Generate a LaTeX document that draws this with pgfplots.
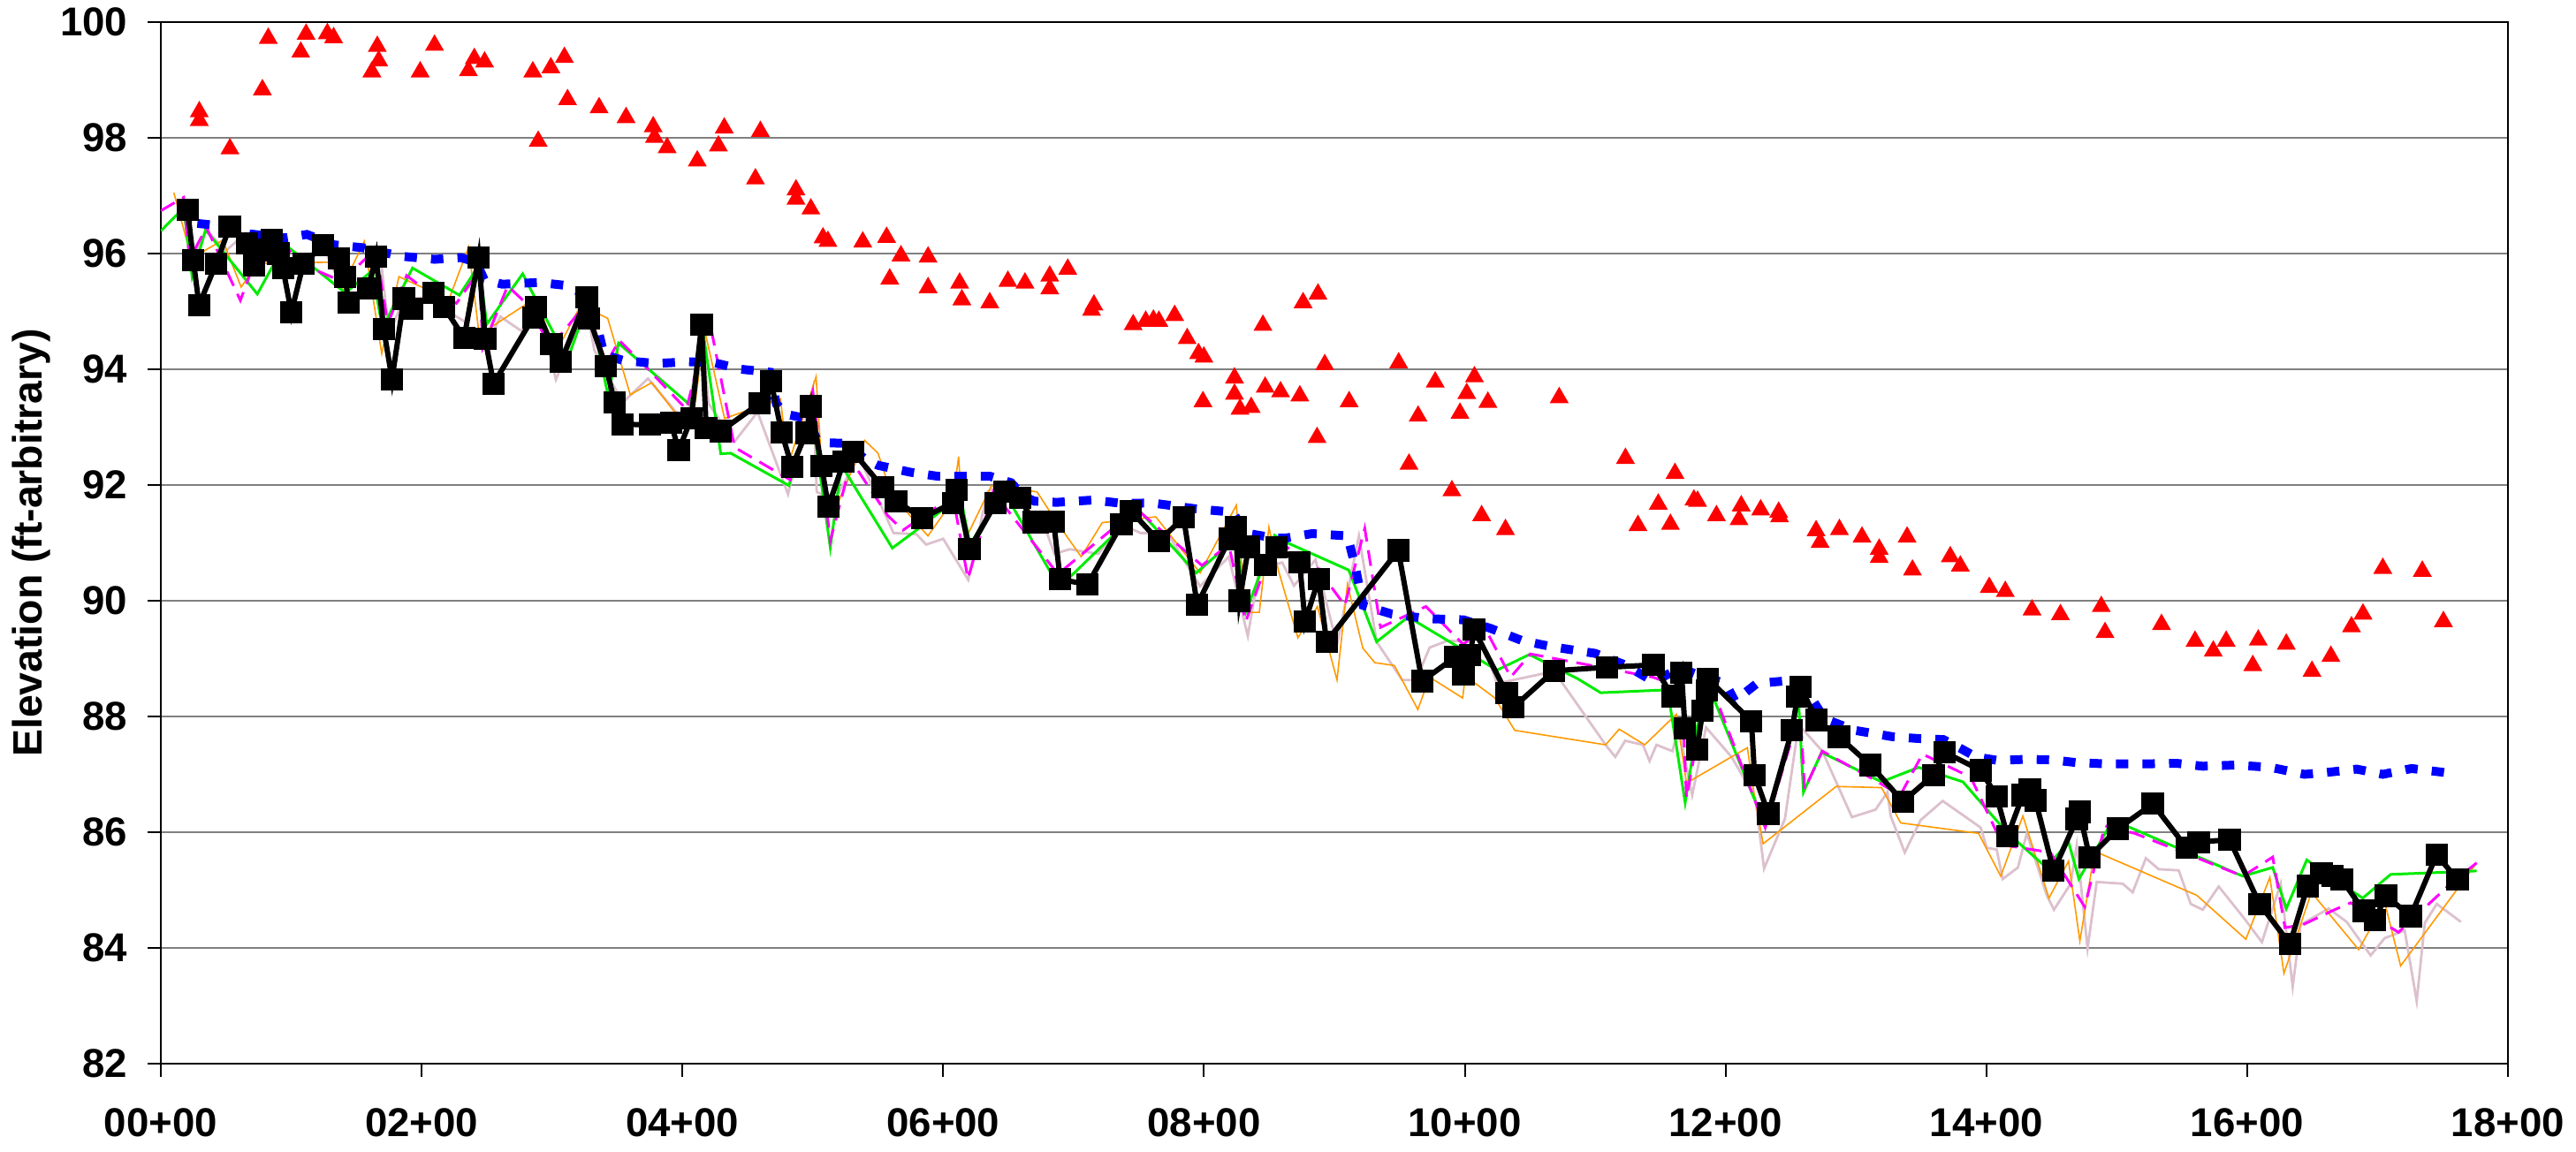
\documentclass[border=0pt]{standalone}
\usepackage{pgfplots}
\pgfplotsset{compat=1.18}
\usepackage{fontspec}
\setmainfont{Liberation Sans}

\definecolor{exgreen}{RGB}{0,235,0}
\definecolor{exorange}{RGB}{255,153,0}
\definecolor{exthistle}{RGB}{220,192,205}
\definecolor{exmagenta}{RGB}{255,0,255}
\definecolor{exblue}{RGB}{0,0,255}
\definecolor{exred}{RGB}{255,0,0}

\begin{document}
\begin{tikzpicture}
\begin{axis}[
    width=664pt, height=294.75pt, scale only axis,
    xmin=0, xmax=1800, ymin=82, ymax=100,
    xtick={0,200,...,1800},
    xticklabels={00+00,02+00,04+00,06+00,08+00,10+00,12+00,14+00,16+00,18+00},
    ytick={82,84,...,100},
    yticklabels={82,84,86,88,90,92,94,96,98,100},
    xtick pos=left, ytick pos=left,
    tick align=outside, major tick length=3.7pt,
    tick style={black, line width=0.5pt},
    ymajorgrids, grid style={gray, line width=0.45pt},
    axis line style={black, line width=0.5pt},
    tick label style={font=\bfseries\fontsize{11.4}{13}\selectfont},
    xticklabel style={yshift=-5.5pt},
    yticklabel style={xshift=-2.2pt},
    ylabel={Elevation (ft-arbitrary)},
    ylabel style={font=\bfseries\fontsize{11.6}{13}\selectfont, at={(axis description cs:-0.0553,0.5)}, anchor=center},
    clip=true,
]
% thistle
\addplot[exthistle, line width=0.7pt] coordinates {
(20,96.75)(25,95.95)(35,96.40)(50,96.05)(65,96.35)(75,95.75)(90,96.10)(100,95.10)(112,95.85)(125,96.10)
(140,95.35)(160,95.60)(168,96.05)(175,94.60)(186,95.20)(205,95.25)(220,95.00)(235,94.80)(244,95.85)(250,94.40)
(260.4,94.91)(276.6,94.66)(288,95.20)(303,93.82)(326,95.10)(332.5,94.33)(345,93.80)(354.5,93.43)(373.6,93.84)(403,93.05)
(415,94.70)(420,93.41)(440,92.75)(457.6,93.26)(481,91.84)(500,93.66)(503,91.88)(516.3,91.73)(535.4,92.49)(561.9,91.17)
(579.5,91.15)(586.9,90.97)(600,91.07)(619.2,90.36)(633.9,91.88)(645.6,92.04)(657.4,91.78)(678,91.27)(685.3,90.81)(697,90.89)
(719,90.81)(736.7,91.32)(751.4,91.17)(772,91.17)(797,90.25)(819,90.76)(833.6,89.39)(842.4,90.56)(860,90.66)(869,90.26)
(885.5,90.71)(902,89.24)(918.8,91.12)(932.4,89.29)(952,88.63)(962.6,88.63)(973,89.19)(986.9,89.31)(1002,89.29)(1012.6,89.34)
(1024.7,88.57)(1068.5,88.78)(1108,87.51)(1115.4,87.30)(1123,87.58)(1136.6,87.51)(1141.7,87.23)(1147,87.51)(1159.3,87.40)(1163.8,87.81)
(1174.4,86.64)(1185,87.81)(1204.6,87.30)(1222.8,86.59)(1229.5,85.37)(1245.5,86.23)(1256,87.86)(1274.2,87.40)(1296.9,86.26)(1315,86.39)
(1324.1,86.69)(1326.6,86.28)(1337.4,85.65)(1349.6,86.21)(1366.5,86.54)(1395.6,86.08)(1400.3,85.73)(1407.9,85.70)(1412.5,85.19)(1424.2,85.39)
(1431,85.98)(1446.3,84.91)(1451.8,84.66)(1464.7,85.11)(1469.3,85.78)(1477.6,83.99)(1484.6,85.14)(1504.5,85.11)(1512.2,84.96)(1522.3,85.55)
(1532.2,85.36)(1547.5,85.34)(1556.7,84.76)(1565.9,84.66)(1578.2,85.06)(1598.1,84.50)(1611.3,84.10)(1625.7,85.11)(1634.9,83.33)(1641,84.40)
(1662.5,84.68)(1676.3,84.45)(1694.7,83.87)(1705.5,84.17)(1720.8,84.30)(1730,83.08)(1736.2,84.43)(1745.4,84.76)(1763.9,84.45)
};
% orange
\addplot[exorange, line width=0.4pt] coordinates {
(10,97.05)(24,95.88)(34.3,96.06)(47.5,96.23)(61.6,95.42)(74,95.83)(130,95.85)(138.6,95.39)(156,96.21)(169.4,94.27)
(182.6,95.60)(203,95.39)(221,95.21)(236,96.11)(243.7,94.68)(250,94.68)(288,95.24)(302.5,94.27)(322,95.11)(342.7,94.88)
(360,93.56)(376.5,93.77)(403,93.00)(410,93.46)(417,94.68)(432.3,93.15)(475.2,93.49)(481,92.34)(502.5,93.87)(507.5,92.09)
(516.3,91.53)(539.8,92.77)(550,92.55)(560.4,91.83)(588.3,91.12)(607.4,91.73)(611.8,92.49)(616.2,91.02)(636.8,91.98)(642.7,91.98)
(672,91.88)(686.7,91.37)(705.8,90.76)(722,91.35)(763,91.45)(797,90.48)(824.8,91.65)(832.2,89.80)(842.4,89.80)(849.8,91.27)
(857,90.53)(872,89.36)(887,89.90)(902,88.63)(910,90.28)(921.8,89.18)(931,88.93)(946,88.88)(964,88.12)(973,88.68)
(998.3,88.32)(1000.5,88.70)(1023,88.32)(1038.3,87.76)(1108,87.51)(1118.4,87.78)(1138,87.51)(1162.3,88.04)(1170,86.85)(1216.7,87.46)
(1221.3,86.74)(1228.8,85.80)(1284.8,86.79)(1319.6,86.77)(1334.3,86.16)(1394,85.98)(1411,85.24)(1428,86.28)(1448,84.86)(1463,85.50)
(1471.7,84.12)(1483,85.67)(1561.3,84.91)(1599,84.15)(1617.4,85.22)(1628.2,83.56)(1649.3,84.96)(1685.5,83.97)(1705.5,84.78)(1717.7,83.69)
(1776,85.47)
};
% green
\addplot[exgreen, line width=0.75pt] coordinates {
(0,96.39)(17.5,96.79)(24,95.60)(34.3,96.41)(74,95.30)(95,96.16)(141.5,95.32)(162,95.70)(170,94.71)(193,95.75)
(229,95.28)(244,95.80)(250,94.78)(277.5,95.65)(288,95.19)(312,94.17)(328,95.19)(343,93.54)(351,94.45)(406,93.38)
(416,94.63)(429.4,92.54)(437,92.55)(481.7,91.99)(498.7,93.31)(513.4,90.92)(522,92.34)(561,90.91)(582.5,91.27)(607.4,91.71)
(613,91.83)(620.6,90.97)(639.7,91.68)(648,91.83)(689,90.23)(736.7,91.27)(745.5,91.68)(794,90.48)(819,90.97)(823.4,91.32)
(832,89.80)(854.2,91.13)(860,91.04)(911,90.53)(932.4,89.29)(956.6,89.72)(1024.7,88.80)(1049.5,89.07)(1086.7,88.65)(1104.2,88.41)
(1155.6,88.46)(1169,86.51)(1180.4,88.12)(1186,88.58)(1230.4,86.11)(1251.5,87.79)(1256,88.27)(1259.7,86.69)(1273.6,87.38)(1319.6,86.87)
(1348,87.12)(1382,86.87)(1415.6,86.00)(1446,85.39)(1463,85.83)(1471,85.19)(1497,86.21)(1596.6,85.24)(1619.6,85.39)(1630,84.68)
(1645.7,85.52)(1658,85.32)(1688.6,84.86)(1710,85.27)(1776,85.33)
};
% magenta
\addplot[exmagenta, line width=0.75pt, dash pattern=on 4.5pt off 2.5pt] coordinates {
(0,96.74)(17.5,96.97)(22,95.90)(35,96.45)(61,95.19)(71,95.80)(94.5,96.13)(115,95.75)(138.6,95.52)(165,96.08)
(174,94.78)(188.5,95.62)(203,95.37)(226.7,95.14)(244,95.70)(247,94.38)(266,95.44)(282.5,95.09)(298.6,94.38)(326.6,95.14)
(341,94.07)(351.5,94.50)(375,93.97)(403,93.31)(420.6,94.86)(440,92.65)(482.6,92.09)(500,93.61)(513.4,91.04)(529.6,92.42)
(557.5,91.47)(569.2,91.22)(607.4,91.81)(619,90.38)(638.3,91.88)(688,90.46)(736.7,91.37)(748.4,91.58)(798.4,90.61)(819,90.97)
(832,89.64)(848.3,90.66)(862,90.95)(887,90.56)(908,89.92)(923.3,91.25)(935.4,89.54)(970.2,89.90)(999,89.24)(1014,89.59)
(1035.2,88.68)(1050.4,89.08)(1144,88.68)(1158,88.57)(1166,88.78)(1170,86.59)(1182,88.07)(1186.5,88.68)(1230.4,86.08)(1251.5,87.66)
(1257.6,87.96)(1260.6,86.74)(1274.2,87.40)(1310.5,86.95)(1334,86.64)(1351,87.35)(1388,86.95)(1412.5,85.78)(1449,85.65)(1475.4,84.71)
(1490.8,86.11)(1513.7,85.98)(1556.7,85.60)(1596.6,85.24)(1619.6,85.57)(1629,84.35)(1642.6,84.40)(1667,84.66)(1679.4,84.78)(1716,84.27)
(1756,85.11)(1776,85.47)
};
% blue dashed
\addplot[exblue, line width=2.5pt, dash pattern=on 3.5pt off 4pt] coordinates {
(28,96.52)(50,96.47)(68,96.34)(95,96.27)(112,96.33)(133,96.15)(155,96.10)(168,96.03)(186,95.95)(210,95.90)
(230,95.93)(242,95.85)(248,95.55)(262,95.47)(290,95.50)(310,95.45)(325,95.30)(334,94.80)(340,94.25)(355,94.15)
(380,94.10)(405,94.13)(425,94.11)(445,94.00)(467,93.95)(472,93.40)(480,93.22)(495,93.15)(503,92.80)(510,92.73)
(525,92.72)(540,92.45)(550,92.34)(575,92.22)(596,92.15)(615,92.15)(636,92.15)(652,92.04)(662,91.80)(670,91.72)
(687,91.70)(715,91.74)(738,91.68)(760,91.69)(793,91.59)(822,91.53)(832,91.17)(855,91.08)(862,91.08)(883,91.16)
(910,91.12)(916,90.59)(922,89.92)(944,89.77)(971,89.69)(999,89.67)(1020,89.52)(1044,89.31)(1068,89.20)(1100,89.09)
(1123,88.89)(1145,88.60)(1165,88.84)(1181,88.70)(1200,88.57)(1207,88.27)(1224,88.57)(1244,88.61)(1262,88.45)(1276,87.96)
(1299,87.76)(1328,87.65)(1347,87.62)(1367,87.60)(1380,87.45)(1392,87.30)(1409,87.24)(1431,87.26)(1450,87.25)(1470,87.20)
(1493,87.18)(1520,87.18)(1546,87.19)(1566,87.14)(1591,87.16)(1618,87.12)(1644,87.00)(1664,87.04)(1684,87.09)(1704,87.00)
(1726,87.10)(1741,87.06)(1756,87.02)
};
% black with squares
\addplot[black, line width=1.5pt, mark=square*, mark size=2.4pt, mark options={solid}] coordinates {
(20.5,96.76)(24.9,95.89)(29.3,95.11)(42.5,95.83)(52.8,96.46)(66.0,96.17)(71.6,95.80)(79.2,96.06)(85.1,96.23)(90.1,96.00)
(93.6,95.75)(100.1,94.98)(109.2,95.82)(124.2,96.14)(136.8,95.91)(141.5,95.60)(143.8,95.15)(159.1,95.40)(165.0,95.95)(170.9,94.70)
(177.3,93.83)(186.4,95.22)(192.9,95.04)(209.1,95.32)(217.0,95.08)(232.6,94.54)(243.7,95.93)(248.7,94.53)(255.2,93.75)(285.4,94.89)
(287.5,95.08)(299.5,94.44)(306.9,94.13)(326.6,95.25)(328.6,94.88)(341.3,94.05)(348.0,93.43)(353.9,93.05)(375.0,93.04)(391.2,93.08)
(397.1,92.60)(406.8,93.15)(414.7,94.77)(418.2,92.99)(429.4,92.93)(459.1,93.41)(467.9,93.79)(476.1,92.91)(484.0,92.31)(494.9,92.90)
(498.7,93.36)(506.7,92.33)(511.9,91.63)(523.7,92.40)(531.0,92.57)(553.7,91.96)(563.9,91.72)(583.9,91.43)(607.4,91.69)(610.3,91.91)
(620.1,90.89)(640.3,91.69)(647.1,91.88)(658.8,91.78)(669.1,91.36)(672.6,91.35)(684.7,91.37)(689.7,90.37)(710.8,90.28)(736.7,91.32)
(744.0,91.55)(765.5,91.03)(784.3,91.44)(794.8,89.93)(819.5,91.07)(824.2,91.28)(827.2,90.00)(834.2,90.93)(847.1,90.62)(855.7,90.92)
(873.3,90.67)(877.5,89.64)(887.9,90.37)(894.0,89.29)(949.0,90.87)(967.2,88.61)(992.9,89.03)(999.0,88.72)(1004.1,89.06)(1007.1,89.50)
(1032.2,88.40)(1037.4,88.16)(1068.5,88.79)(1109.3,88.85)(1144.7,88.89)(1159.2,88.35)(1166.2,88.76)(1168.9,87.79)(1178.0,87.43)(1182.5,88.10)
(1185.6,88.45)(1186.5,88.65)(1219.8,87.92)(1222.2,86.99)(1232.8,86.32)(1250.9,87.76)(1255.1,88.34)(1257.6,88.51)(1269.7,87.94)(1286.9,87.65)
(1311.1,87.16)(1336,86.53)(1359.5,86.99)(1368.0,87.38)(1395.7,87.07)(1407.9,86.62)(1416.2,85.93)(1427.9,86.64)(1433.4,86.74)(1437.7,86.55)
(1451.5,85.33)(1469.3,86.23)(1471.4,86.35)(1479.1,85.57)(1500.9,86.06)(1527.6,86.49)(1553.6,85.73)(1562.8,85.83)(1586.5,85.87)(1609.5,84.76)
(1632.8,84.07)(1646.3,85.07)(1657.0,85.29)(1665.6,85.24)(1672.6,85.18)(1689.5,84.64)(1697.8,84.48)(1706.4,84.90)(1725.4,84.55)(1745.3,85.61)
(1761.3,85.18)
};
% red triangles
\addplot[only marks, mark=triangle*, mark size=2.7pt, exred] coordinates {
(29.5,98.45)(29.5,98.30)(53.0,97.81)(77.9,98.83)(82.4,99.72)(107.3,99.48)(111.4,99.79)(127.7,99.80)(132.5,99.73)(161.9,99.14)
(166.0,99.58)(167.1,99.33)(198.9,99.14)(209.9,99.60)(235.9,99.16)(240.4,99.37)(248.3,99.31)(285.3,99.14)(289.4,97.94)(299.1,99.21)
(309.5,99.39)(311.9,98.66)(336.1,98.52)(356.8,98.35)(377.6,98.19)(378.6,98.01)(388.3,97.83)(411.4,97.60)(427.6,97.86)(432.1,98.17)
(456.0,97.29)(459.8,98.11)(487.1,97.10)(487.1,96.94)(498.5,96.77)(507.8,96.27)(511.6,96.21)(538.3,96.20)(556.6,96.28)(559.0,95.56)
(567.6,95.96)(588.4,95.94)(588.4,95.41)(612.6,95.49)(614.3,95.20)(635.7,95.15)(649.6,95.52)(662.7,95.49)(681.7,95.61)(681.7,95.39)
(695.5,95.73)(713.8,95.02)(715.6,95.11)(745.7,94.77)(755.3,94.83)(761.2,94.85)(765.4,94.83)(777.5,94.93)(787.1,94.53)(795.8,94.27)
(799.9,94.21)(799.2,93.44)(823.4,93.85)(823.4,93.57)(827.6,93.31)(836.2,93.34)(845.2,94.76)(846.9,93.69)(858.7,93.61)(873.5,93.54)
(876.0,95.15)(887.4,95.30)(886.7,92.82)(892.6,94.08)(911.3,93.44)(949.3,94.11)(957.2,92.36)(964.2,93.19)(977.3,93.78)(990.1,91.90)
(996.3,93.24)(1001.5,93.58)(1007.4,93.87)(1012.9,91.47)(1017.7,93.43)(1031.2,91.23)(1072.4,93.51)(1123.2,92.46)(1132.8,91.30)(1148.4,91.67)
(1157.7,91.32)(1161.2,92.20)(1175.7,91.74)(1178.5,91.72)(1193.0,91.47)(1210.3,91.40)(1212.0,91.64)(1226.9,91.57)(1240.7,91.53)(1241.4,91.45)
(1269.4,91.21)(1272.5,91.01)(1287.3,91.23)(1304.6,91.10)(1317.8,90.89)(1317.8,90.75)(1339.2,91.10)(1343.3,90.53)(1372.3,90.76)(1380.0,90.60)
(1402.2,90.23)(1414.5,90.16)(1435.0,89.84)(1456.8,89.76)(1488.1,89.90)(1491.0,89.45)(1534.3,89.59)(1560.0,89.30)(1574.0,89.13)(1583.9,89.30)
(1604.3,88.88)(1608.5,89.32)(1630.0,89.25)(1649.7,88.78)(1664.2,89.04)(1680.0,89.55)(1688.8,89.77)(1704.0,90.56)(1734.3,90.51)(1750.5,89.64)
};
\end{axis}
\pgfresetboundingbox
\path (-45.5pt,-25pt) rectangle (683.25pt,301pt);
\end{tikzpicture}
\end{document}
